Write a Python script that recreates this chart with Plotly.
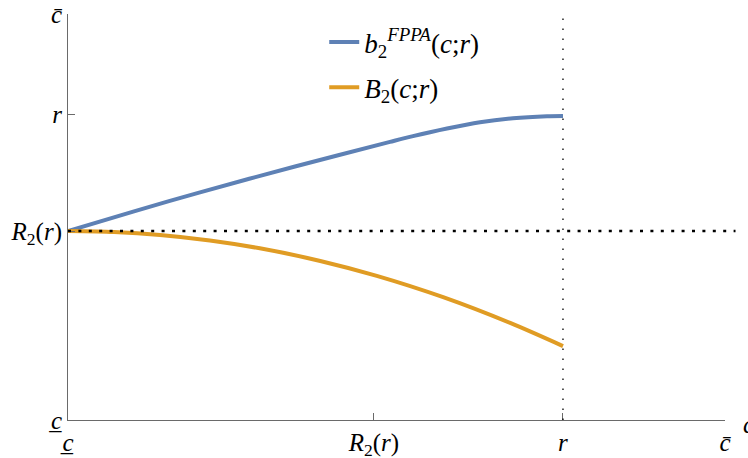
import plotly.graph_objects as go

# data (normalised: lower bound c_ = 0, upper bound c-bar = 1)
c_low, c_high = 0.0, 1.0
R2 = 0.4655
r = 0.7534

blue_x = [0.0, 0.1005, 0.2009, 0.3455, 0.4901, 0.5251, 0.5769, 0.6271, 0.6773, 0.7291, 0.7534]
blue_y = [0.4655, 0.5140, 0.5608, 0.6244, 0.6850, 0.6992, 0.7180, 0.7335, 0.7434, 0.7483, 0.7490]

orange_x = [0.0, 0.07, 0.14, 0.216, 0.292, 0.384, 0.47, 0.571, 0.673, 0.7534]
orange_y = [0.4655, 0.4630, 0.4557, 0.4422, 0.4229, 0.3918, 0.3550, 0.3025, 0.2390, 0.1820]

tick_vals = [c_low, R2, r, c_high]
tick_text = ["<i>c\u0332</i>", "<i>R</i><sub>2</sub>(<i>r</i>)", "<i>r</i>", "<i>c\u0304</i>"]

BLUE = "rgb(94,129,181)"
ORANGE = "rgb(224,156,36)"
FONT = "Liberation Serif, Times New Roman, serif"

fig = go.Figure()
fig.add_trace(go.Scatter(x=blue_x, y=blue_y, mode="lines", line=dict(color=BLUE, width=4, shape="spline", smoothing=0.8),
                         legendgroup="a",
                         name="<i>b</i><sub>2</sub><sup><i>FPPA</i></sup>(<i>c</i>;<i>r</i>)"))
fig.add_trace(go.Scatter(x=orange_x, y=orange_y, mode="lines", line=dict(color=ORANGE, width=4, shape="spline", smoothing=0.8),
                         legendgroup="b",
                         name="<i>B</i><sub>2</sub>(<i>c</i>;<i>r</i>)"))

# reference lines
fig.add_shape(type="line", xref="paper", yref="y", x0=0, x1=1.016, y0=R2, y1=R2,
              line=dict(color="black", width=2.5, dash="3px,7.4px"), layer="above")
fig.add_shape(type="line", xref="x", yref="paper", x0=r, x1=r, y0=0, y1=1,
              line=dict(color="black", width=1.3, dash="1.6px,8.4px"), layer="above")

axis_common = dict(range=[0, 1], showgrid=False, zeroline=False, showline=True, linecolor="#6a6a6a",
                   linewidth=1, ticks="inside", ticklen=7, tickcolor="#6a6a6a", tickmode="array",
                   automargin=False,
                   tickvals=tick_vals, ticktext=tick_text, tickfont=dict(family=FONT, size=25, color="black"))
fig.update_xaxes(**axis_common)
fig.update_yaxes(**axis_common)

fig.add_annotation(xref="paper", yref="paper", x=1.024, y=-0.01, xanchor="left", yanchor="middle",
                   text="<i>c</i>", showarrow=False, font=dict(family=FONT, size=25, color="black"))

fig.update_layout(
    width=748, height=458, margin=dict(l=68, r=23, t=14, b=38),
    plot_bgcolor="white", paper_bgcolor="white",
    legend=dict(x=0.39, y=0.99, xanchor="left", yanchor="top", bgcolor="rgba(0,0,0,0)",
                font=dict(family=FONT, size=27, color="black"), tracegroupgap=7),
)

fig.write_html("out.html")
